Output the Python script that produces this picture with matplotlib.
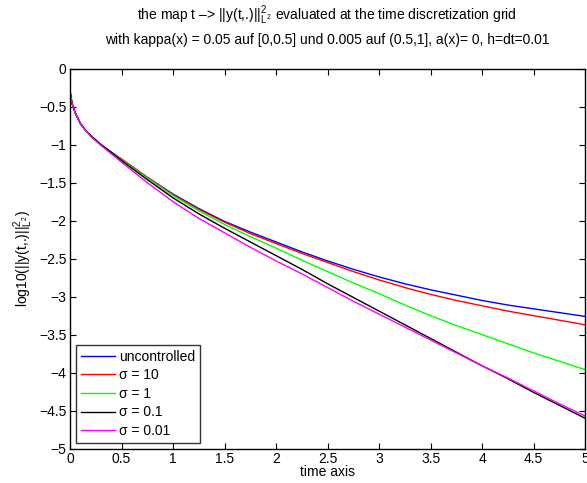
import matplotlib
matplotlib.use("Agg")
import matplotlib.pyplot as plt
from matplotlib.ticker import FuncFormatter, MultipleLocator

plt.rcParams['font.family'] = ['Liberation Sans', 'DejaVu Sans']
plt.rcParams['mathtext.fontset'] = 'custom'
plt.rcParams['mathtext.rm'] = 'Liberation Sans'
plt.rcParams['mathtext.it'] = 'Liberation Sans'
plt.rcParams['mathtext.bf'] = 'Liberation Sans:bold'
plt.rcParams['axes.unicode_minus'] = True

# time grid of the sampled norms
t = [0, 0.02, 0.05, 0.1, 0.15, 0.2, 0.3, 0.4, 0.5, 0.75, 1.0, 1.25, 1.5, 1.75,
     2.0, 2.25, 2.5, 2.75, 3.0, 3.25, 3.5, 3.75, 4.0, 4.25, 4.5, 4.75, 5.0]

# log10 of the squared L2 norm for each run
uncontrolled = [-0.30, -0.46, -0.58, -0.72, -0.81, -0.88, -1.00, -1.10, -1.19, -1.43,
                -1.65, -1.84, -2.01, -2.15, -2.28, -2.41, -2.53, -2.64, -2.74, -2.83,
                -2.91, -2.98, -3.05, -3.11, -3.16, -3.21, -3.26]
sigma_10 = [-0.30, -0.46, -0.58, -0.72, -0.81, -0.88, -1.00, -1.10, -1.19, -1.43,
            -1.66, -1.85, -2.02, -2.17, -2.30, -2.43, -2.55, -2.67, -2.78, -2.88,
            -2.97, -3.05, -3.12, -3.19, -3.25, -3.31, -3.37]
sigma_1 = [-0.30, -0.46, -0.58, -0.72, -0.81, -0.88, -1.00, -1.10, -1.20, -1.44,
           -1.67, -1.87, -2.05, -2.21, -2.36, -2.52, -2.67, -2.82, -2.96, -3.11,
           -3.25, -3.38, -3.50, -3.62, -3.74, -3.85, -3.96]
sigma_01 = [-0.30, -0.46, -0.58, -0.72, -0.81, -0.88, -1.00, -1.10, -1.21, -1.46,
            -1.70, -1.91, -2.10, -2.28, -2.46, -2.64, -2.83, -3.01, -3.19, -3.37,
            -3.55, -3.73, -3.91, -4.08, -4.26, -4.43, -4.60]
sigma_001 = [-0.30, -0.46, -0.58, -0.72, -0.81, -0.89, -1.01, -1.12, -1.23, -1.50,
             -1.75, -1.97, -2.16, -2.35, -2.53, -2.70, -2.88, -3.06, -3.23, -3.40,
             -3.57, -3.74, -3.91, -4.07, -4.24, -4.41, -4.57]

labels = ['uncontrolled', 'σ = 10', 'σ = 1', 'σ = 0.1', 'σ = 0.01']
colors = ['#0000ff', '#ff0000', '#00ff00', '#000000', '#ff00ff']
series = [uncontrolled, sigma_10, sigma_1, sigma_01, sigma_001]

fs = 10
fig = plt.figure(figsize=(5.87, 4.83), dpi=100)
ax = fig.add_axes([0.1193, 0.0711, 0.8775, 0.7867])

for y, c, lab in zip(series, colors, labels):
    ax.plot(t, y, color=c, lw=1.0, label=lab)

ax.set_xlim(0, 5)
ax.set_ylim(-5, 0)
ax.xaxis.set_major_locator(MultipleLocator(0.5))
ax.yaxis.set_major_locator(MultipleLocator(0.5))
fmt = FuncFormatter(lambda v, p: ('%g' % v).replace('-', '\u2212'))
ax.xaxis.set_major_formatter(fmt)
ax.yaxis.set_major_formatter(fmt)
ax.tick_params(direction='in', length=4, width=0.8, top=True, right=True,
               labelsize=fs, pad=2.5)
for s in ax.spines.values():
    s.set_linewidth(1.0)

ax.set_xlabel('time axis', fontsize=fs, labelpad=-1)
ax.set_ylabel(r'log10(||y(t,.)||$^2_{L^2}$)', fontsize=fs, labelpad=3)

fig.text(0.557, 0.968,
         'the map t \u2013> ||y(t,.)||$^2_{L^2}$ evaluated at the time discretization grid',
         ha='center', va='center', fontsize=fs)
fig.text(0.557, 0.917,
         'with kappa(x) = 0.05 auf [0,0.5] und 0.005 auf (0.5,1], a(x)= 0, h=dt=0.01',
         ha='center', va='center', fontsize=fs)

leg = ax.legend(loc='lower left', fontsize=fs, frameon=True, fancybox=False,
                handlelength=2.5, handletextpad=0.25, borderaxespad=0.42,
                labelspacing=0.33, borderpad=0.35)
leg.get_frame().set_edgecolor('black')
leg.get_frame().set_linewidth(1.0)

fig.savefig('out.png', dpi=100)
